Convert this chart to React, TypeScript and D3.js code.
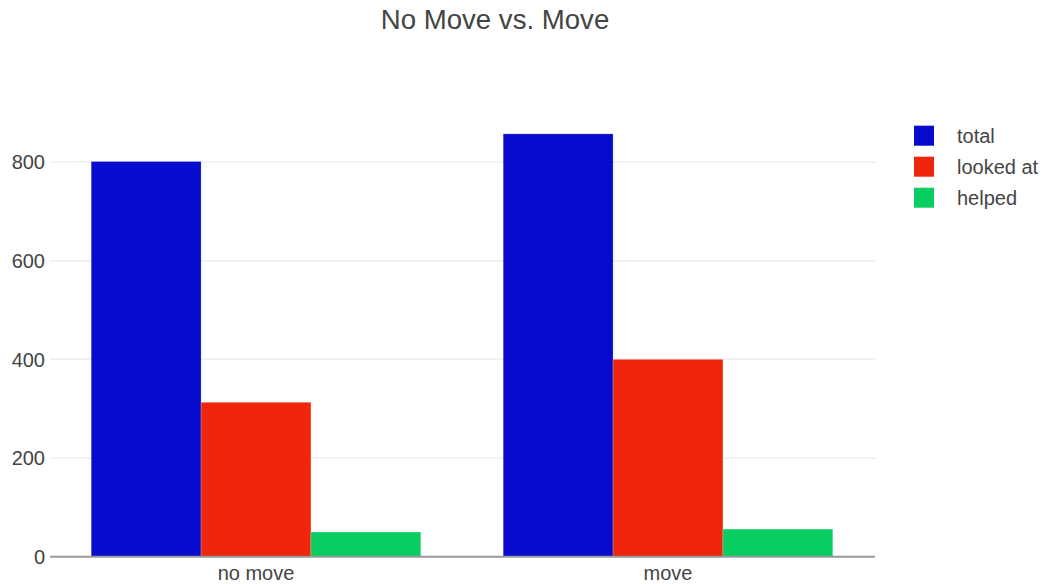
import React from "react";
import * as d3 from "d3";

const categories = ["no move", "move"];
const seriesNames = ["total", "looked at", "helped"];
const totalValues = [801, 857];
const lookedAtValues = [313, 400];
const helpedValues = [50, 56];
const seriesColors = ["#070bcd", "#ef250c", "#08cd60"];
const yTicks = [0, 200, 400, 600, 800];
const title = "No Move vs. Move";

const W = 1047;
const H = 584;
const left = 50;
const right = 874;
const y0 = 556.7;
const y800 = 162;

export default function App() {
  const series = [totalValues, lookedAtValues, helpedValues];
  const x = d3.scaleBand<string>().domain(categories).range([left, right]).padding(0);
  const bw = x.bandwidth();
  const inner = d3
    .scaleBand<string>()
    .domain(seriesNames)
    .range([bw * 0.1, bw * 0.9])
    .padding(0);
  const y = d3.scaleLinear().domain([0, 800]).range([y0, y800]);
  const font = "'Liberation Sans', Arial, sans-serif";

  return (
    <svg
      width={W}
      height={H}
      style={{ position: "absolute", left: 0, top: 0, background: "#fff" }}
      fontFamily={font}
    >
      <text x={495} y={29} textAnchor="middle" fontSize={27.6} fill="#444">
        {title}
      </text>
      {yTicks
        .filter((t) => t !== 0)
        .map((t) => (
          <line key={"g" + t} x1={left} x2={right + 1} y1={y(t)} y2={y(t)} stroke="#eee" strokeWidth={1.5} />
        ))}
      {yTicks.map((t) => (
        <text key={"t" + t} x={45} y={y(t)} dy="0.36em" textAnchor="end" fontSize={20} fill="#444">
          {t}
        </text>
      ))}
      {categories.map((c, ci) =>
        seriesNames.map((s, si) => {
          const v = series[si][ci];
          return (
            <rect
              key={c + s}
              x={(x(c) as number) + (inner(s) as number)}
              y={y(v)}
              width={inner.bandwidth()}
              height={y(0) - y(v)}
              fill={seriesColors[si]}
              stroke="rgba(255,255,255,0.35)"
              strokeWidth={0.6}
            />
          );
        })
      )}
      <line x1={left} x2={right + 1} y1={y(0)} y2={y(0)} stroke="#999" strokeWidth={2} />
      {categories.map((c) => (
        <text
          key={"x" + c}
          x={(x(c) as number) + bw / 2}
          y={580}
          textAnchor="middle"
          fontSize={20}
          fill="#444"
        >
          {c}
        </text>
      ))}
      {seriesNames.map((s, i) => (
        <g key={"l" + s} transform={`translate(0, ${135.7 + i * 31})`}>
          <rect x={914} y={-10} width={20} height={20} fill={seriesColors[i]} />
          <text x={957} y={0} dy="0.36em" fontSize={20} fill="#444">
            {s}
          </text>
        </g>
      ))}
    </svg>
  );
}
